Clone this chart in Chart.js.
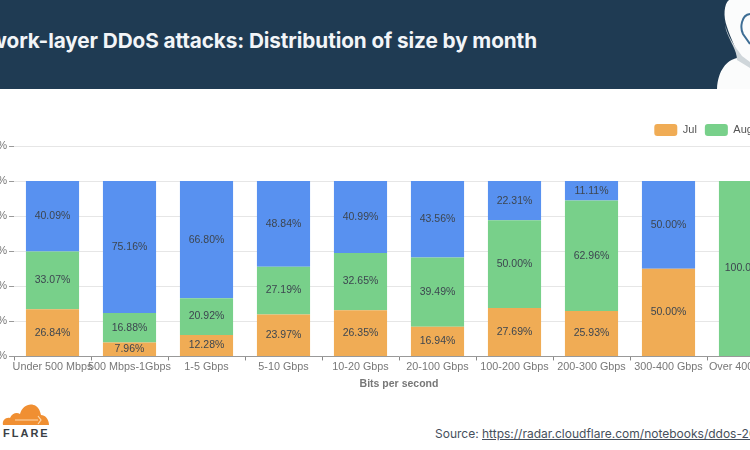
<!DOCTYPE html>
<html>
<head>
<meta charset="utf-8">
<script src="https://cdn.jsdelivr.net/npm/chart.js@4"></script>
<style>
	html, body { margin: 0; padding: 0; width: 750px; height: 450px; overflow: hidden; background: #fff; }
	.header { position: absolute; left: 0; top: 0; width: 750px; height: 89px; background: #1f3b53; }
	.title { position: absolute; right: 213px; top: 28px; white-space: nowrap; color: #f2f5f8;
		font: 700 20.75px Inter, sans-serif; letter-spacing: -0.1px; }
	.mascot { position: absolute; left: 700px; top: 0; }
	.chart-box { position: absolute; left: -40px; top: 110px; width: 883px; height: 280px; }
	.logo { position: absolute; left: 0; top: 400px; }
	.flare { position: absolute; left: 3px; top: 427px; color: #3a3f45; letter-spacing: 2px;
		font: 700 11px "Liberation Sans", sans-serif; }
	.source { position: absolute; left: 435px; top: 426px; white-space: nowrap; color: #46505c;
		font: 12px Inter, sans-serif; }
	.source span { text-decoration: underline; }
</style>
</head>
<body>
<div class="header"></div>
<div class="title">Network-layer DDoS attacks: Distribution of size by month</div>
<svg class="mascot" width="50" height="90" viewBox="0 0 50 90">
	<path d="M50 0 H29 C24 4 23 16 27 27 C31 40 38 50 37 58 C27 60 18 70 17 89 H50 Z" fill="#fbfcfc"/>
	<path d="M24 18 C26 36 35 46 42 56 L50 62 V68 L37 60 C37 50 30 42 26 30 Z" fill="#cfd6da"/>
	<path d="M50 14 C41 15 40 28 43 34 L50 44" fill="none" stroke="#3d6d94" stroke-width="2"/>
</svg>
<div class="chart-box"><canvas id="ddos_chart"></canvas></div>
<svg class="logo" width="50" height="26" viewBox="0 0 50 26">
	<path d="M3 25 C2 20 6 17 10 18 C12 13 17 12 20 14 C22 6 30 2 36 6 C39 8 40 11 41 15 C45 15 49 19 49 25 Z" fill="#f08f32"/>
	<path d="M15 20 H38 M38 16 L41 20 L38 24" fill="none" stroke="#fbd9b0" stroke-width="1.2"/>
</svg>
<div class="flare">FLARE</div>
<div class="source">Source: <span>https://radar.cloudflare.com/notebooks/ddos-2023-q3</span></div>
<script>
// Values
const categories = ['Under 500 Mbps', '500 Mbps-1Gbps', '1-5 Gbps', '5-10 Gbps', '10-20 Gbps',
	'20-100 Gbps', '100-200 Gbps', '200-300 Gbps', '300-400 Gbps', 'Over 400 Gbps'];
const julValues = [26.84, 7.96, 12.28, 23.97, 26.35, 16.94, 27.69, 25.93, 50.00, 0];
const augValues = [33.07, 16.88, 20.92, 27.19, 32.65, 39.49, 50.00, 62.96, 0, 100.00];
const sepValues = [40.09, 75.16, 66.80, 48.84, 40.99, 43.56, 22.31, 11.11, 50.00, 0];
const yTicks = [0, 20, 40, 60, 80, 100, 120];

const fontFamily = '"Liberation Sans", Arial, sans-serif';

// percent text in the middle of each bar segment
const barLabels = {
	id: 'barLabels',
	afterDatasetsDraw(chart) {
		const ctx = chart.ctx;
		ctx.save();
		ctx.font = `10.5px ${fontFamily}`;
		ctx.fillStyle = '#3d4650';
		ctx.textAlign = 'center';
		ctx.textBaseline = 'middle';
		chart.data.datasets.forEach((dataset, d) => {
			chart.getDatasetMeta(d).data.forEach((bar, i) => {
				const value = dataset.data[i];
				if (value > 0) {
					ctx.fillText(`${value.toFixed(2)}%`, bar.x, (bar.y + bar.base) / 2);
				}
			});
		});
		ctx.restore();
	}
};

new Chart(document.getElementById('ddos_chart'), {
	type: 'bar',
	plugins: [barLabels],
	data: {
		labels: categories,
		datasets: [
			{ label: 'Jul', data: julValues, backgroundColor: '#f0ac55' },
			{ label: 'Aug', data: augValues, backgroundColor: '#78d08a' },
			{ label: 'Sep', data: sepValues, backgroundColor: '#5891f0' }
		]
	},
	options: {
		responsive: true,
		maintainAspectRatio: false,
		animation: false,
		layout: { padding: { left: 0, right: 26, top: 6, bottom: 0 } },
		datasets: { bar: { categoryPercentage: 0.69, barPercentage: 1 } },
		scales: {
			x: {
				stacked: true,
				title: {
					display: true,
					text: 'Bits per second',
					color: '#777',
					font: { family: fontFamily, size: 10.5, weight: 'bold' },
					padding: { top: 4, bottom: 0 }
				},
				grid: { drawOnChartArea: false, tickLength: 4, tickColor: '#888' },
				border: { color: '#999' },
				ticks: { color: '#777', maxRotation: 0, autoSkip: false, padding: 0,
					font: { family: fontFamily, size: 10.8 } }
			},
			y: {
				stacked: true,
				min: 0,
				max: 120,
				afterBuildTicks: (axis) => { axis.ticks = yTicks.map((value) => ({ value })); },
				afterFit: (axis) => { axis.width = 54; }, // pins the plot's left edge
				grid: { color: '#e6e6e6', tickLength: 5, tickColor: '#999' },
				border: { display: false },
				ticks: { color: '#777', padding: 2, font: { family: fontFamily, size: 10.8 },
					callback: (value) => `${value}%` }
			},
			// empty axis, only holds the plot back so the legend can run further right
			spacer: {
				position: 'right',
				display: true,
				grid: { display: false },
				border: { display: false },
				ticks: { display: false },
				afterFit: (axis) => { axis.width = 33; }
			}
		},
		plugins: {
			legend: {
				position: 'top',
				align: 'end',
				labels: { boxWidth: 23, boxHeight: 12, color: '#555', padding: 8, useBorderRadius: true, borderRadius: 3,
					font: { family: fontFamily, size: 11 } }
			},
			tooltip: { enabled: false }
		}
	}
});
</script>
</body>
</html>
